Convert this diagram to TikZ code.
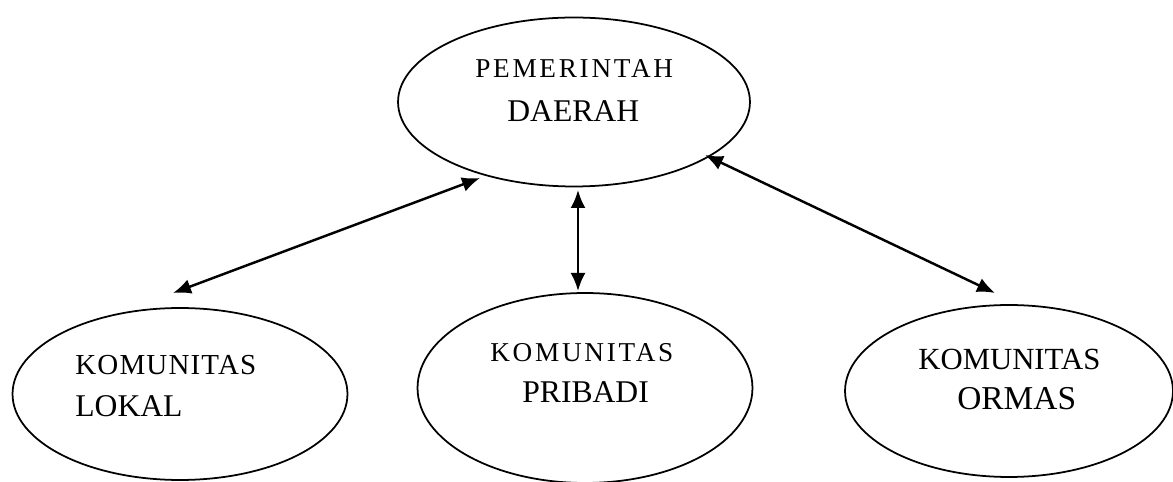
\documentclass[tikz,border=0pt]{standalone}
\usepackage{fontspec}
\setmainfont{Liberation Serif}
\newfontfamily\renggang[LetterSpace=10]{Liberation Serif}
\newfontfamily\agakrenggang[LetterSpace=4]{Liberation Serif}
\usepackage{tikz}
\usetikzlibrary{positioning, calc, shapes.geometric, arrows.meta}
\tikzstyle{elips}= [ellipse, draw, line width=1pt, inner sep=0pt, outer sep=0pt]
\tikzstyle{teks}= [anchor=base west, inner sep=0pt, font=\fontsize{18}{21}\selectfont]
\tikzstyle{panah}= [line width=1.4pt, {Latex[length=3.6mm,width=3mm]}-{Latex[length=3.6mm,width=3mm]}]

\begin{document}
\begin{tikzpicture}[x=0.02cm, y=-0.02cm]
				\useasboundingbox (0,0) rectangle (1173,482);
				\node[elips, minimum width=7.04cm, minimum height=3.38cm] (pemda)  at (574,102) {};
				\node[elips, minimum width=6.7cm, minimum height=3.44cm] (lokal)  at (180,394) {};
				\node[elips, minimum width=6.7cm, minimum height=3.8cm] (pribadi)  at (585,388) {};
				\node[elips, minimum width=6.56cm, minimum height=3.44cm] (ormas)  at (1009,391) {};

				\node[teks, font=\fontsize{15.5}{18}\renggang] (t1) at (475,78) {PEMERINTAH};
				\node[teks] (t2) at (507,122) {DAERAH};
				\node[teks, font=\fontsize{16.5}{18}\agakrenggang] (t3) at (75,375) {KOMUNITAS};
				\node[teks] (t4) at (75,417) {LOKAL};
				\node[teks, font=\fontsize{15.5}{18}\renggang] (t5) at (490,362) {KOMUNITAS};
				\node[teks] (t6) at (522,403) {PRIBADI};
				\node[teks, font=\fontsize{17.5}{20}\selectfont] (t7) at (918,370) {KOMUNITAS};
				\node[teks, font=\fontsize{19}{21}\selectfont] (t8) at (957,410) {ORMAS};

				\coordinate (pL) at (480,178);
				\coordinate (lL) at (173,293);
				\coordinate (pM) at (578,190);
				\coordinate (mM) at (578,291);
				\coordinate (pR) at (705,155);
				\coordinate (oR) at (995,293);
				\draw[panah] (lL) -- (pL);
				\draw[panah] (pM) -- (mM);
				\draw[panah] (pR) -- (oR);
			\end{tikzpicture}
\end{document}
